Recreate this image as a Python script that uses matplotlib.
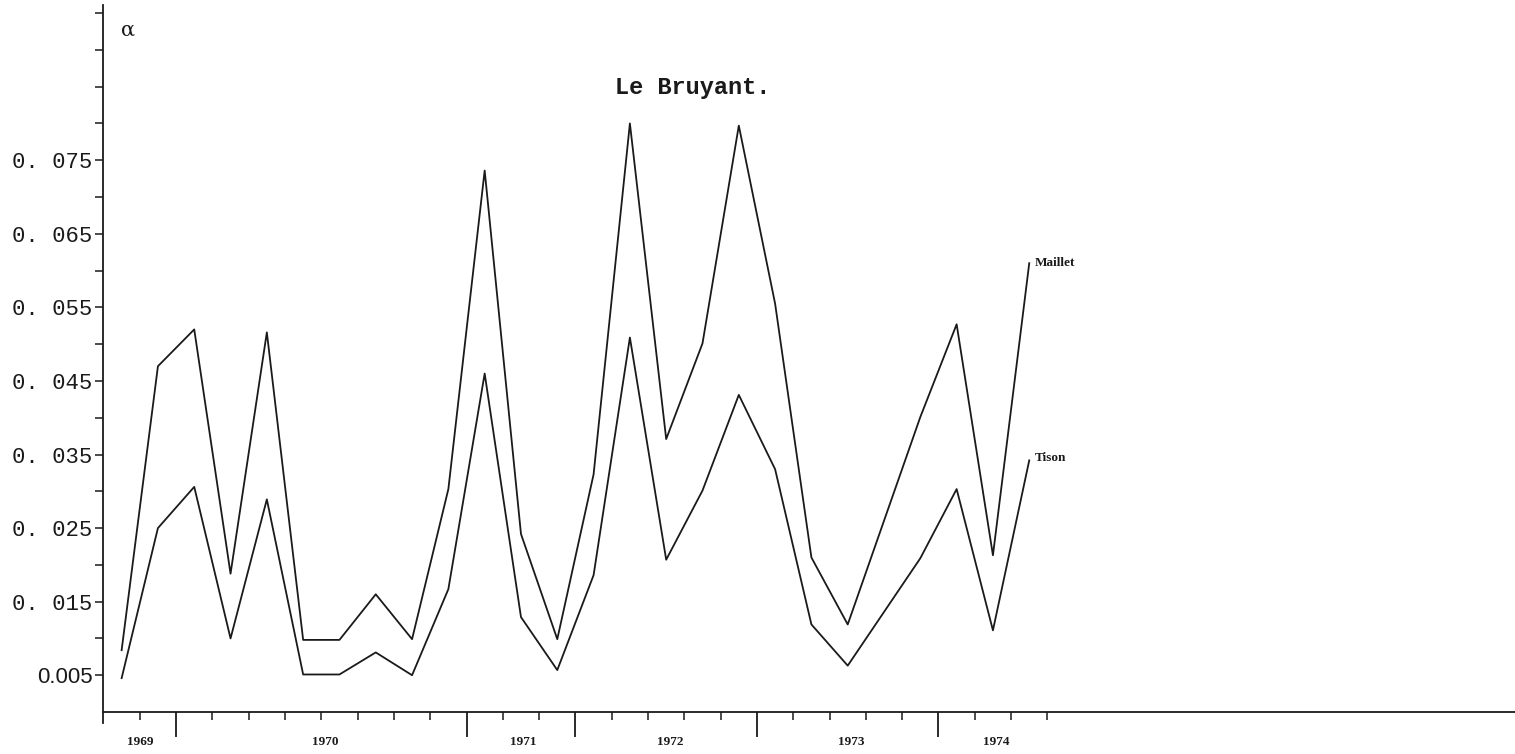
import numpy as np
import matplotlib.pyplot as plt

# Coefficient alpha, une valeur par periode (lecture du graphique)
maillet = [0.0084, 0.0470, 0.0520, 0.0188, 0.0516, 0.0098, 0.0098, 0.0160,
           0.0099, 0.0303, 0.0736, 0.0242, 0.0099, 0.0323, 0.0800, 0.0371,
           0.0501, 0.0797, 0.0555, 0.0210, 0.0119, 0.0260, 0.0401, 0.0527,
           0.0213, 0.0610]
tison = [0.0046, 0.0250, 0.0306, 0.0100, 0.0289, 0.0051, 0.0051, 0.0081,
         0.0050, 0.0167, 0.0460, 0.0129, 0.0057, 0.0186, 0.0509, 0.0207,
         0.0301, 0.0431, 0.0330, 0.0119, 0.0063, 0.0136, 0.0209, 0.0303,
         0.0111, 0.0342]

annees = ['1969', '1970', '1971', '1972', '1973', '1974']
pos_annees = [1.0, 6.1, 11.55, 15.6, 20.6, 24.6]

ytick_val = [0.005, 0.015, 0.025, 0.035, 0.045, 0.055, 0.065, 0.075]
ytick_lab = ['0.005', '0. 015', '0. 025', '0. 035', '0. 045', '0. 055',
             '0. 065', '0. 075']
ytick_min = [0.01, 0.02, 0.03, 0.04, 0.05, 0.06, 0.07, 0.08, 0.085, 0.09, 0.095]

xtick_long = [2, 10, 13, 18, 23]
xtick_court = [t for t in range(1, 27) if t not in xtick_long]

periodes = np.arange(len(maillet)) + 0.5

fig = plt.figure(figsize=(15.15, 7.54), dpi=100)
ax = fig.add_axes([0.0683, 0.0557, 0.9317, 0.9377])

ax.plot(periodes, maillet, color='#1a1a1a', lw=1.3)
ax.plot(periodes, tison, color='#1a1a1a', lw=1.3)

ax.set_xlim(0, 38.88)
ax.set_ylim(0, 0.0961)

for s in ['top', 'right']:
    ax.spines[s].set_visible(False)
for s in ['left', 'bottom']:
    ax.spines[s].set_linewidth(1.3)
    ax.spines[s].set_color('#1a1a1a')
ax.spines['left'].set_bounds(-0.0015, 0.0961)

# axe des y
ax.set_yticks(ytick_val)
ax.set_yticklabels(ytick_lab, family='Liberation Mono', fontsize=16)
ax.set_yticks(ytick_min, minor=True)
ax.tick_params(axis='y', which='both', length=6, width=1.1, pad=2,
               color='#1a1a1a', labelcolor='#1a1a1a')
lab0 = ax.get_yticklabels()[0]
lab0.set_family('Liberation Sans')

# axe des x
ax.set_xticks(xtick_long)
ax.set_xticklabels([])
ax.set_xticks(xtick_court, minor=True)
ax.tick_params(axis='x', which='major', length=18, width=1.3, color='#1a1a1a')
ax.tick_params(axis='x', which='minor', length=6, width=1.1, color='#1a1a1a')

trans = ax.get_xaxis_transform()
for a, p in zip(annees, pos_annees):
    ax.text(p, -0.042, a, transform=trans, ha='center', va='center',
            family='Liberation Serif', fontweight='bold', fontsize=9.5,
            color='#1a1a1a')

ax.text(0.4177, 0.8826, 'Le Bruyant.', transform=ax.transAxes,
        ha='center', va='center', family='Liberation Mono', fontsize=17,
        fontweight='bold', color='#1a1a1a')
ax.text(0.0174, 0.9646, 'α', transform=ax.transAxes, ha='center',
        va='center', family='DejaVu Serif', fontsize=15, color='#1a1a1a')

ax.annotate('Maillet', (periodes[-1], maillet[-1]), xytext=(4, 0),
            textcoords='offset points', va='center', ha='left',
            family='Liberation Serif', fontweight='bold', fontsize=9.5,
            color='#1a1a1a')
ax.annotate('Tison', (periodes[-1], tison[-1]), xytext=(4, 2),
            textcoords='offset points', va='center', ha='left',
            family='Liberation Serif', fontweight='bold', fontsize=9.5,
            color='#1a1a1a')

fig.savefig('out.png', dpi=100)
